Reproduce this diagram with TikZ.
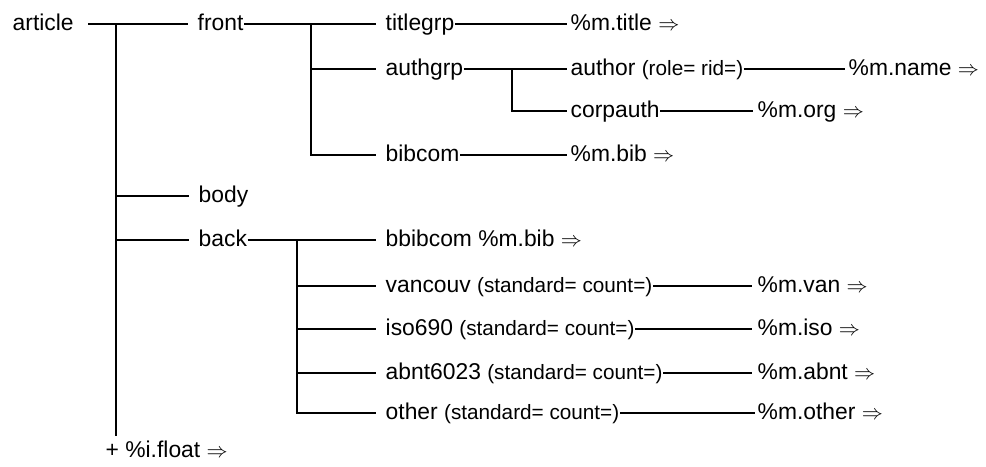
\documentclass[tikz,border=0pt]{standalone}
\usepackage{fontspec}
\setmainfont{Liberation Sans}
\newcommand{\attrs}[1]{{\fontsize{11.8}{14}\selectfont #1}}
\newcommand{\goesto}{$\Rightarrow$}

\begin{document}
\begin{tikzpicture}[x=0.02cm,y=-0.02cm,line width=0.8pt,
    every node/.style={anchor=west,inner sep=0pt,text height=9.5pt,text depth=2pt,
      font=\fontsize{13}{15}\selectfont},
    tobox/.style={shorten >=5pt}]
  \useasboundingbox (0,0) rectangle (986,466);

  % first level
  \node (article) at (12,24) {article};
  \node (front) at (197,24) {front};
  \node (body) at (198,196) {body};
  \node (back) at (198,240) {back};
  \node (float) at (105,451) {+ \%i.float \goesto};
  \coordinate (mt) at (116,24);
  \coordinate (mtend) at (116,436);

  \draw[tobox] ([xshift=8pt]article.east) -- (front.west);
  \draw (mt) -- (mtend);
  \draw[tobox] (mt |- body) -- (body.west);
  \draw[tobox] (mt |- back) -- (back.west);

  % front
  \node (titlegrp) at (385,24) {titlegrp};
  \node (authgrp) at (385,69) {authgrp};
  \node (bibcom) at (385,155) {bibcom};
  \node (mtitle) at (570,24) {\%m.title \goesto};
  \node (author) at (570,69) {author \attrs{(role= rid=)}};
  \node (corpauth) at (570,111) {corpauth};
  \node (mbib) at (570,155) {\%m.bib \goesto};
  \node (mname) at (848,69) {\%m.name \goesto};
  \node (morg) at (757,111) {\%m.org \goesto};
  \coordinate (ft) at (311,24);
  \coordinate (at) at (512,69);

  \draw[tobox] (front.east) -- (titlegrp.west);
  \draw[tobox] (ft) |- (bibcom.west);
  \draw[tobox] (ft |- authgrp) -- (authgrp.west);
  \draw[shorten >=1.5pt] (titlegrp.east) -- (mtitle.west);
  \draw[shorten >=1.5pt] (authgrp.east) -- (author.west);
  \draw[shorten >=1.5pt] (at) |- (corpauth.west);
  \draw[shorten >=1.5pt] (author.east) -- (mname.west);
  \draw[shorten >=2.5pt] (corpauth.east) -- (morg.west);
  \draw[shorten >=1.5pt] (bibcom.east) -- (mbib.west);

  % back
  \node (bbibcom) at (385,240) {bbibcom \%m.bib \goesto};
  \node (vancouv) at (385,286) {vancouv \attrs{(standard= count=)}};
  \node (iso) at (385,329) {iso690 \attrs{(standard= count=)}};
  \node (abnt) at (385,373) {abnt6023 \attrs{(standard= count=)}};
  \node (other) at (385,413) {other \attrs{(standard= count=)}};
  \node (mvan) at (757,286) {\%m.van \goesto};
  \node (miso) at (757,329) {\%m.iso \goesto};
  \node (mabnt) at (757,373) {\%m.abnt \goesto};
  \node (mother) at (757,413) {\%m.other \goesto};
  \coordinate (bt) at (297,240);

  \draw[tobox] (back.east) -- (bbibcom.west);
  \draw[tobox] (bt) |- (other.west);
  \foreach \n in {vancouv,iso,abnt}
    \draw[tobox] (bt |- \n) -- (\n.west);
  \draw[shorten >=3pt] (vancouv.east) -- (mvan.west);
  \draw[shorten >=3pt] (iso.east) -- (miso.west);
  \draw[shorten >=3pt] (abnt.east) -- (mabnt.west);
  \draw[shorten >=1pt] (other.east) -- (mother.west);
\end{tikzpicture}
\end{document}
